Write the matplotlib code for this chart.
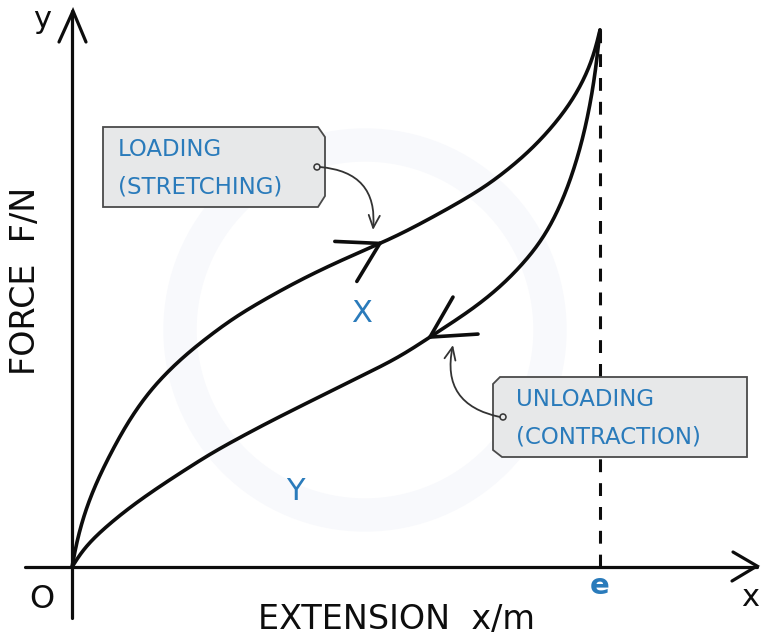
import numpy as np
import matplotlib
matplotlib.use("Agg")
import matplotlib.pyplot as plt
from matplotlib.patches import Polygon, Ellipse, FancyArrowPatch

# ---- data (extension as fraction of e, force as fraction of max) ----
load_x = [0, 0.0057, 0.0152, 0.0265, 0.0398, 0.0587, 0.0777, 0.0966, 0.1155, 0.1477,
          0.1799, 0.2140, 0.2424, 0.3049, 0.3693, 0.4318, 0.4943, 0.5587, 0.6080,
          0.6591, 0.7216, 0.7860, 0.8485, 0.8864, 0.9242, 0.9527, 0.9773, 0.9924, 1.0]
load_y = [0, 0.0354, 0.0726, 0.1099, 0.1434, 0.1844, 0.2197, 0.2551, 0.2849, 0.3296,
          0.3631, 0.3948, 0.4171, 0.4637, 0.5009, 0.5345, 0.5642, 0.5922, 0.6127,
          0.6387, 0.6723, 0.7095, 0.7579, 0.7933, 0.8361, 0.8752, 0.9218, 0.9628, 1.0]
unload_x = [0, 0.0057, 0.0152, 0.0341, 0.0530, 0.0814, 0.1098, 0.1667, 0.2670, 0.3693,
            0.4943, 0.6212, 0.6837, 0.7216, 0.7538, 0.7860, 0.8201, 0.8485, 0.8807,
            0.9110, 0.9375, 0.9564, 0.9716, 0.9848, 0.9943, 1.0]
unload_y = [0, 0.0149, 0.0298, 0.0484, 0.0652, 0.0894, 0.1117, 0.1508, 0.2142, 0.2682,
            0.3296, 0.3911, 0.4320, 0.4562, 0.4767, 0.5009, 0.5289, 0.5587, 0.5940,
            0.6425, 0.7020, 0.7579, 0.8138, 0.8790, 0.9441, 1.0]
e_value = 1.0
load_arrow_x = 0.583
unload_arrow_x = 0.678

x_label = "EXTENSION  x/m"
y_label = "FORCE  F/N"
load_text = ["LOADING", "(STRETCHING)"]
unload_text = ["UNLOADING", "(CONTRACTION)"]

BLUE = "#2a7bbb"
INK = "#0d0d0d"

# ---- layout: pixel helper ----
X0, Y0, SX, SY = 72, 567, 528, 537
def P(px, py):
    return ((px - X0) / SX, (Y0 - py) / SY)

def smooth(xs, ys, sigma=18.0):
    # resample the read points along their length, then round the corners
    pts = np.column_stack([np.asarray(xs) * SX, np.asarray(ys) * SY])
    seg = np.hypot(*np.diff(pts, axis=0).T)
    s = np.concatenate([[0], np.cumsum(seg)])
    ss = np.append(np.arange(0, s[-1], 1.0), s[-1])
    px = np.interp(ss, s, pts[:, 0])
    py = np.interp(ss, s, pts[:, 1])
    k = int(3 * sigma)
    g = np.exp(-0.5 * (np.arange(-k, k + 1) / sigma) ** 2)
    g /= g.sum()
    def sm(v):
        left = 2 * v[0] - v[k:0:-1]
        right = 2 * v[-1] - v[-2:-k - 2:-1]
        return np.convolve(np.concatenate([left, v, right]), g, mode="valid")
    return np.column_stack([sm(px) / SX, sm(py) / SY])

fig = plt.figure(figsize=(7.61, 6.40), dpi=100)
ax = fig.add_axes([0, 0, 1, 1])
ax.set_xlim(-X0 / SX, (761 - X0) / SX)
ax.set_ylim(-(640 - Y0) / SY, Y0 / SY)
ax.axis("off")

# faint watermark ring
ax.add_patch(Ellipse(P(365, 330), 370 / SX, 370 / SY, fill=False,
                     lw=24, ec="#f8f9fc", zorder=0))

lw = 2.3
# axes
ax.plot([P(25, 0)[0], P(757, 0)[0]], [0, 0], color=INK, lw=lw, solid_capstyle="round")
ax.plot([0, 0], [P(0, 618)[1], P(0, 11)[1]], color=INK, lw=lw, solid_capstyle="round")
# arrowheads on axes
ax.plot([P(59, 42)[0], P(73, 11)[0], P(86, 42)[0]],
        [P(59, 42)[1], P(73, 11)[1], P(86, 42)[1]], color=INK, lw=lw,
        solid_capstyle="round", solid_joinstyle="miter")
ax.plot([P(733, 552)[0], P(757, 566)[0], P(732, 581)[0]],
        [P(733, 552)[1], P(757, 566)[1], P(732, 581)[1]], color=INK, lw=lw,
        solid_capstyle="round", solid_joinstyle="miter")

# dashed line at e
ax.plot([e_value, e_value], [0, 1.0], color=INK, lw=2.2, dashes=(4.2, 3.6))

# curves
L = smooth(load_x, load_y)
U = smooth(unload_x, unload_y)
ax.plot(L[:, 0], L[:, 1], color=INK, lw=2.6, solid_capstyle="round")
ax.plot(U[:, 0], U[:, 1], color=INK, lw=2.6, solid_capstyle="round")

def chevron(tip, wings):
    for dpx, dpy in wings:
        ax.plot([tip[0], tip[0] + dpx / SX], [tip[1], tip[1] - dpy / SY],
                color=INK, lw=2.6, solid_capstyle="round")

tipL = (load_arrow_x, np.interp(load_arrow_x, L[:, 0], L[:, 1]))
chevron(tipL, [(-45, -2), (-23, 38)])
tipU = (unload_arrow_x, np.interp(unload_arrow_x, U[:, 0], U[:, 1]))
chevron(tipU, [(48, -3), (23, -40)])

# text labels
ax.text(*P(42, 20), "y", fontsize=22, color=INK, ha="center", va="center")
ax.text(*P(750, 598), "x", fontsize=22, color=INK, ha="center", va="center")
ax.text(*P(42, 600), "O", fontsize=23, color=INK, ha="center", va="center")
ax.text(*P(600, 586), "e", fontsize=21, color=BLUE, ha="center", va="center",
        fontweight="bold")
ax.text(*P(397, 620), x_label, fontsize=24, color=INK, ha="center", va="center")
ax.text(*P(26, 281), y_label, fontsize=24, color=INK, ha="center", va="center",
        rotation=90)
ax.text(*P(362, 313), "X", fontsize=22, color=BLUE, ha="center", va="center")
ax.text(*P(295, 492), "Y", fontsize=22, color=BLUE, ha="center", va="center")

# tag boxes
def tag(pts):
    ax.add_patch(Polygon([P(*p) for p in pts], closed=True, fc="#e7e8e9", ec="#4a4a4a",
                         lw=1.3, zorder=3))

tag([(103, 127), (318, 127), (325, 137), (325, 196), (318, 207), (103, 207)])
tag([(500, 377), (747, 377), (747, 457), (502, 457), (493, 450), (493, 384)])

ax.text(*P(118, 150), load_text[0], fontsize=16.5, color=BLUE, ha="left", va="center", zorder=4)
ax.text(*P(118, 187), load_text[1], fontsize=16.5, color=BLUE, ha="left", va="center", zorder=4)
ax.text(*P(516, 400), unload_text[0], fontsize=16.5, color=BLUE, ha="left", va="center", zorder=4)
ax.text(*P(516, 437), unload_text[1], fontsize=16.5, color=BLUE, ha="left", va="center", zorder=4)

for c in [(317, 167), (503, 417)]:
    ax.add_patch(Ellipse(P(*c), 6 / SX, 6 / SY, fc="#e7e8e9",
                         ec="#333333", lw=1.1, zorder=5))

a1 = FancyArrowPatch(P(320, 167), P(373, 230), connectionstyle="arc3,rad=-0.5",
                     arrowstyle="->,head_length=9,head_width=4", color="#333333",
                     lw=1.3, zorder=5, shrinkA=0, shrinkB=0)
a2 = FancyArrowPatch(P(500, 417), P(453, 345), connectionstyle="arc3,rad=-0.5",
                     arrowstyle="->,head_length=9,head_width=4", color="#333333",
                     lw=1.3, zorder=5, shrinkA=0, shrinkB=0)
ax.add_patch(a1)
ax.add_patch(a2)

fig.savefig("out.png", dpi=100)
